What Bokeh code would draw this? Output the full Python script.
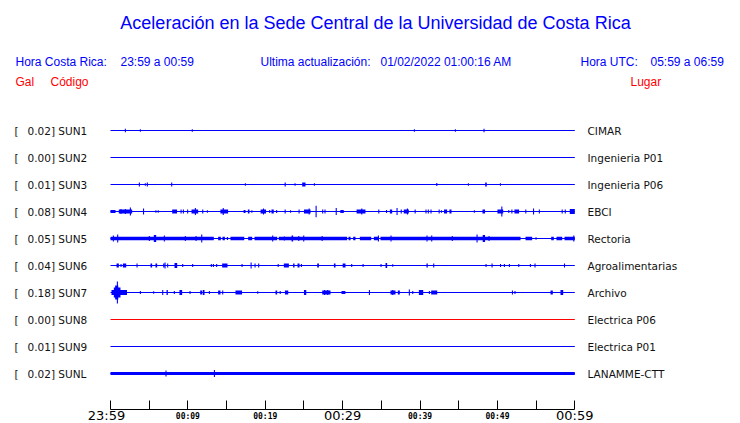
from bokeh.plotting import figure
from bokeh.models import Range1d, LinearAxis, FixedTicker, Label, ColumnDataSource
from bokeh.core.properties import value
from bokeh.embed import file_html
from bokeh.resources import INLINE

# ---------------- data ----------------
TITLE = "Aceleración en la Sede Central de la Universidad de Costa Rica"
HORA_CR = "23:59 a 00:59"
ACTUALIZACION = "01/02/2022 01:00:16 AM"
HORA_UTC = "05:59 a 06:59"

STATIONS = ["SUN1", "SUN2", "SUN3", "SUN4", "SUN5", "SUN6", "SUN7", "SUN8", "SUN9", "SUNL"]
GAL = ["0.02", "0.00", "0.01", "0.08", "0.05", "0.04", "0.18", "0.00", "0.01", "0.02"]
PLACES = ["CIMAR", "Ingenieria P01", "Ingenieria P06", "EBCI", "Rectoria",
          "Agroalimentarias", "Archivo", "Electrica P06", "Electrica P01", "LANAMME-CTT"]

TICKS = [0, 5, 10, 15, 20, 25, 30, 35, 40, 45, 50, 55, 60]          # minutes after 23:59
BIG_TICKS = [0, 30, 60]
BIG_LABELS = ["23:59", "00:29", "00:59"]
SMALL_TICKS = [10, 20, 40, 50]
SMALL_LABELS = ["00:09", "00:19", "00:39", "00:49"]

# signal bursts per station: (start minute, duration minute, half amplitude)
SUN1_EVENTS = [(1.85, 0, 1.7), (3.79, 0, 1.2), (10.5, 0, 1.2), (39.2, 0, 1.2), (44.5, 0, 1.2), (48.2, 0, 1.8)]
SUN2_EVENTS = []
SUN3_EVENTS = [(3.66, 0, 2), (4.43, 0, 1.2), (4.69, 0, 2), (7.84, 0, 2), (17.36, 0, 1.2), (22.5, 0.15, 2),
               (23.78, 0, 1.2), (24.77, 0.43, 2), (26.28, 0, 1.2), (42.09, 0.15, 1.5), (46.18, 0, 1.2),
               (48.42, 0.2, 2), (50.32, 0, 1.2)]
SUN4_EVENTS = [(0.0, 0.65, 1.5), (1.07, 1.73, 2), (1.29, 0, 2.5), (1.85, 0, 2.5), (2.5, 0, 4), (4.2, 0, 3),
               (5.8, 0, 1.2), (6.1, 0, 1.2), (7.97, 0.63, 2), (9.05, 0, 2), (9.35, 0, 2), (9.9, 0, 2),
               (10.47, 0.86, 2), (10.9, 0, 3.5), (11.85, 0, 2), (12.45, 0, 1.2), (14.2, 1.0, 2), (14.5, 0, 3.5),
               (17.2, 0.25, 1.5), (17.75, 0.21, 2), (18.2, 0, 1.2), (19.4, 0.7, 2), (19.7, 0, 3), (20.5, 0, 1.5),
               (20.8, 0.3, 2), (21.4, 0, 1.5), (22.5, 0, 2), (23.2, 0, 1.2), (24.3, 0, 2), (25.0, 0.85, 2),
               (25.6, 0, 3), (26.5, 0, 5.8), (27.35, 0, 2), (27.65, 0, 2), (29.1, 0, 3.5), (29.7, 0.45, 1.5),
               (31.8, 1.15, 2), (32.4, 0, 3), (34.6, 0, 2), (35.6, 0, 1.5), (36.1, 0.3, 2), (36.96, 0, 3.5),
               (37.5, 0, 2), (37.9, 0.65, 2), (38.3, 0, 3), (39.3, 0, 2), (40.7, 0, 2), (41.0, 0, 2),
               (41.35, 0, 2), (42.4, 0, 2), (42.7, 0, 1.2), (43.1, 0.4, 2), (43.8, 0.27, 2), (46.95, 0, 1.2),
               (48.07, 0.33, 2), (50.0, 0.75, 2), (50.5, 0, 5), (51.4, 0, 1.5), (51.8, 0, 2), (52.2, 0.6, 2),
               (53.6, 0, 2), (54.6, 0, 3), (55.35, 0, 2), (58.3, 0, 2), (58.7, 0, 2), (59.35, 0.65, 2.5)]
SUN5_EVENTS = [(0.0, 13.35, 1.7), (13.91, 0.35, 1.7), (14.47, 0.31, 1.7), (15.03, 0.17, 1.5), (15.5, 1.78, 1.7),
               (17.79, 0.52, 1.7), (18.61, 2.93, 1.7), (21.75, 8.83, 1.7), (30.76, 0.26, 1.7), (31.36, 0.3, 1.7),
               (32.22, 1.47, 1.7), (34.03, 0.65, 1.7), (34.89, 18.1, 1.7), (53.63, 0.86, 1.7), (54.92, 0, 1.2),
               (56.95, 0.34, 1.7), (57.63, 0.74, 1.7), (58.67, 1.33, 1.7),
               (0.3, 0, 3), (0.86, 0, 4), (4.95, 0, 2.5), (5.6, 0.3, 3.5), (6.89, 0, 3), (9.6, 0, 2.5),
               (10.99, 0, 2.5), (11.72, 0, 4), (20.89, 0, 3), (22.4, 0, 2), (23.4, 0.2, 3), (24.26, 0, 2.5),
               (24.9, 0, 3), (27.28, 0, 2.5), (34.55, 0, 3), (36.18, 0, 3), (40.83, 0, 3), (41.44, 0, 3),
               (44.1, 0, 2.5), (47.3, 0, 4), (48.1, 0.3, 3.5), (48.85, 0, 2.5), (59.8, 0, 3)]
SUN6_EVENTS = [(0.78, 0.3, 2), (1.29, 0, 1.5), (1.6, 0.43, 2), (3.36, 0, 2), (5.17, 0.21, 2), (5.81, 0.22, 2),
               (6.81, 0.17, 2), (6.98, 0, 3), (7.32, 0, 2), (8.27, 0.35, 2.5), (9.26, 0, 1.5), (10.55, 0, 1.5),
               (12.96, 0, 1.5), (13.23, 0, 1.5), (13.65, 0, 1.5), (14.43, 0.69, 2), (16.93, 0, 1.5), (18.1, 0, 3),
               (18.61, 0.09, 2), (19.08, 0, 2), (21.6, 0, 1.5), (22.4, 0.65, 2), (23.6, 0.18, 2), (24.17, 0.26, 2),
               (24.6, 0, 1.5), (26.71, 0.22, 2), (28.87, 0.21, 2), (30.0, 0.37, 2), (31.1, 0, 1.5), (32.57, 0, 1.5),
               (34.89, 0, 1.5), (35.54, 0.21, 2.5), (36.4, 0, 1.2), (40.83, 0.17, 2), (41.7, 0, 2), (48.46, 0, 1.5),
               (49.24, 0, 2), (50.33, 0, 1.5), (50.83, 0, 1.5), (51.48, 0, 1.5), (52.69, 0, 1.5), (54.19, 0, 1.5),
               (54.79, 0.13, 2), (58.6, 0.1, 2)]
SUN7_EVENTS = [(0.13, 2.0, 2.5), (0.43, 0.86, 5), (0.6, 0.4, 7), (0.82, 0, 11), (3.79, 0, 1.5), (5.51, 0, 1.2),
               (6.68, 0.13, 2.5), (7.24, 0.17, 2.5), (8.18, 0, 1.5), (8.91, 0.35, 2.5), (10.21, 0, 1.5),
               (11.59, 0.26, 2), (11.93, 0.22, 2.5), (12.71, 0, 1.5), (13.91, 0.3, 2), (14.43, 0.13, 2),
               (16.15, 0.85, 2), (18.96, 0, 1.2), (21.32, 0.22, 2), (21.86, 0, 1.5), (22.54, 0.43, 2),
               (25.0, 0.3, 2.5), (27.36, 1.07, 2), (27.6, 0, 2.5), (28.0, 0.1, 2.5), (29.85, 0.5, 1.5),
               (33.39, 0.12, 2.5), (36.18, 0.65, 2), (36.4, 0, 2.5), (37.13, 0.26, 2), (38.55, 0, 3),
               (38.99, 0, 1.5), (39.85, 0.56, 2.5), (41.14, 0, 1.5), (41.44, 0.78, 2), (51.87, 0.1, 2),
               (52.2, 0.1, 1.5), (56.86, 0.3, 2), (58.15, 0.35, 2.5)]
SUN8_EVENTS = []
SUN9_EVENTS = []
SUNL_EVENTS = [(0.0, 60.0, 1.6), (7.1, 0, 3), (13.36, 0, 3.5)]

ALL_EVENTS = [SUN1_EVENTS, SUN2_EVENTS, SUN3_EVENTS, SUN4_EVENTS, SUN5_EVENTS,
              SUN6_EVENTS, SUN7_EVENTS, SUN8_EVENTS, SUN9_EVENTS, SUNL_EVENTS]

# ---------------- styles / layout ----------------
BLUE = "#0000ff"
RED = "#ff0000"
TRACE_COLORS = [BLUE] * 7 + [RED, BLUE, BLUE]
W, H = 740, 423
X0_PX, X1_PX = 110, 574.3
TRACE_TOP_PX, TRACE_GAP = 130, 27
AXIS_PX = 409
MIN_W = 0.14  # minutes (about one pixel)


def xd(px):
    return (px - X0_PX) / (X1_PX - X0_PX) * 60.0


def yd(py):
    return (py - TRACE_TOP_PX) / TRACE_GAP


p = figure(width=W, height=H, output_backend="svg", toolbar_location=None,
           x_range=Range1d(xd(0), xd(W)), y_range=Range1d(yd(H), yd(0)),
           x_axis_type=None, y_axis_type=None,
           min_border_left=0, min_border_right=0, min_border_top=0, min_border_bottom=0)
p.outline_line_color = None
p.background_fill_color = "white"
p.border_fill_color = "white"

# baselines
p.segment(x0=[0] * len(STATIONS), x1=[60] * len(STATIONS), y0=list(range(len(STATIONS))),
          y1=list(range(len(STATIONS))), line_color=TRACE_COLORS, line_width=1)

# bursts
left, right, bottom, top, colors = [], [], [], [], []
for k, evs in enumerate(ALL_EVENTS):
    for (t, d, a) in evs:
        left.append(t)
        right.append(min(60.0, t + max(d, MIN_W)))
        bottom.append(k - a / TRACE_GAP)
        top.append(k + a / TRACE_GAP)
        colors.append(TRACE_COLORS[k])
src = ColumnDataSource(dict(left=left, right=right, bottom=bottom, top=top, color=colors))
p.quad(left="left", right="right", bottom="bottom", top="top", source=src,
       fill_color="color", line_color=None)

# time axis (drawn inside the frame at a fixed location)
ax = LinearAxis(ticker=FixedTicker(ticks=TICKS, minor_ticks=[]), bounds=(0, 60),
                fixed_location=yd(AXIS_PX))
ax.major_tick_in = 9
ax.major_tick_out = 0
ax.minor_tick_in = 0
ax.minor_tick_out = 0
ax.axis_line_color = "black"
ax.major_tick_line_color = "black"
ax.major_label_standoff = 0
ax.major_label_text_font_size = "1px"
ax.major_label_text_color = None
ax.major_label_overrides = {t: "" for t in TICKS}
p.add_layout(ax, "below")

DEJ = "DejaVu Sans"
p.text(x=BIG_TICKS, y=[yd(415)] * len(BIG_TICKS), text=BIG_LABELS,
       x_offset=[-4 if t == 0 else 0 for t in BIG_TICKS],
       text_font=value(DEJ), text_font_size=value("13px"), text_color="black",
       text_align="center", text_baseline="middle")
p.text(x=SMALL_TICKS, y=[yd(415.5)] * len(SMALL_TICKS), text=SMALL_LABELS,
       text_font=value("DejaVu Sans Mono"), text_font_size=value("8px"), text_font_style="bold",
       text_color="black", text_align="center", text_baseline="middle")


def lab(text, px, py, size, font, color="black", align="left", style="normal"):
    p.add_layout(Label(x=xd(px), y=yd(py), text=text, text_font=font, text_font_size=size,
                       text_color=color, text_align=align, text_baseline="middle",
                       text_font_style=style))


SANS = "Liberation Sans"

lab(TITLE, 375, 22, "18px", SANS, BLUE, align="center")
lab("Hora Costa Rica:", 15, 61, "12px", SANS, BLUE)
lab(HORA_CR, 120, 61, "12px", SANS, BLUE)
lab("Ultima actualización:", 260, 61, "12px", SANS, BLUE)
lab(ACTUALIZACION, 380, 61, "12px", SANS, BLUE)
lab("Hora UTC:", 580, 61, "12px", SANS, BLUE)
lab(HORA_UTC, 650, 61, "12px", SANS, BLUE)
lab("Gal", 15, 81, "12px", SANS, RED)
lab("Código", 50, 81, "12px", SANS, RED)
lab("Lugar", 630, 81, "12px", SANS, RED)

for k in range(len(STATIONS)):
    py = TRACE_TOP_PX + TRACE_GAP * k
    lab("[", 14, py, "10.5px", DEJ, "#111111")
    lab(GAL[k] + "] " + STATIONS[k], 27, py, "10.5px", DEJ, "#111111")
    lab(PLACES[k], 587, py, "10.5px", DEJ, "#111111")

open("out.html", "w").write(file_html(p, INLINE))
